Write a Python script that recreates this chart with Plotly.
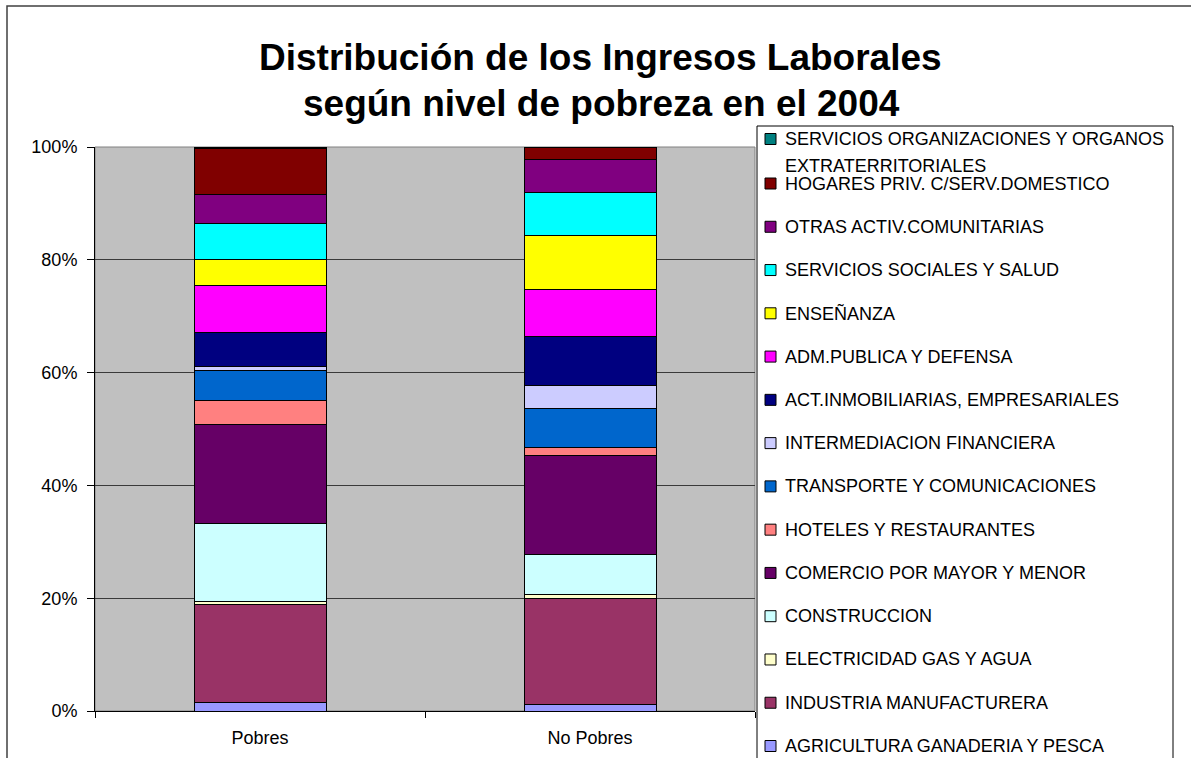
import plotly.graph_objects as go

categories = ["Pobres", "No Pobres"]

# sectors from the bottom of the stack to the top
sectors = [
    "AGRICULTURA GANADERIA Y PESCA",
    "INDUSTRIA MANUFACTURERA",
    "ELECTRICIDAD GAS Y AGUA",
    "CONSTRUCCION",
    "COMERCIO POR MAYOR Y MENOR",
    "HOTELES Y RESTAURANTES",
    "TRANSPORTE Y COMUNICACIONES",
    "INTERMEDIACION FINANCIERA",
    "ACT.INMOBILIARIAS, EMPRESARIALES",
    "ADM.PUBLICA Y DEFENSA",
    "ENSEÑANZA",
    "SERVICIOS SOCIALES Y SALUD",
    "OTRAS ACTIV.COMUNITARIAS",
    "HOGARES PRIV. C/SERV.DOMESTICO",
    "SERVICIOS ORGANIZACIONES Y ORGANOS<br>EXTRATERRITORIALES",
]

pobres = [1.5, 17.4, 0.5, 13.8, 17.6, 4.2, 5.4, 0.6, 6.1, 8.4, 4.6, 6.4, 5.1, 8.1, 0.3]
no_pobres = [1.2, 18.8, 0.7, 7.0, 17.6, 1.4, 6.9, 4.1, 8.7, 8.3, 9.6, 7.7, 5.8, 2.1, 0.1]

y_tickvals = [0, 20, 40, 60, 80, 100]
y_ticktext = ["0%", "20%", "40%", "60%", "80%", "100%"]

colors = [
    "#9999FF", "#993366", "#FFFFCC", "#CCFFFF", "#660066",
    "#FF8080", "#0066CC", "#CCCCFF", "#000080", "#FF00FF",
    "#FFFF00", "#00FFFF", "#800080", "#800000", "#008080",
]

W, H = 1191, 758
L, R, T, B = 95, 755, 147, 711


def px(x):
    # screen pixel -> paper x
    return (x - L) / (R - L)


def py(y):
    # screen pixel -> paper y
    return (B - y) / (B - T)


fig = go.Figure()
for i, name in enumerate(sectors):
    fig.add_trace(
        go.Bar(
            name=name,
            x=categories,
            y=[pobres[i], no_pobres[i]],
            marker=dict(color=colors[i], line=dict(color="#000", width=1)),
            width=0.4,
            showlegend=False,
        )
    )

font = "Liberation Sans, Arial, sans-serif"

fig.update_layout(
    barmode="stack",
    width=W,
    height=H,
    margin=dict(l=L, r=W - R, t=T, b=H - B, autoexpand=False),
    paper_bgcolor="white",
    plot_bgcolor="#C0C0C0",
    font=dict(family=font, size=18, color="#000"),
)

fig.update_yaxes(
    range=[0, 100],
    tickmode="array",
    tickvals=y_tickvals,
    ticktext=y_ticktext,
    showgrid=True,
    gridcolor="#3a3a3a",
    gridwidth=1,
    showline=True,
    linecolor="#000",
    linewidth=1,
    ticks="outside",
    ticklen=7,
    tickcolor="#000",
    ticklabelstandoff=6,
    zeroline=False,
)
fig.update_xaxes(
    showline=True,
    linecolor="#000",
    linewidth=1,
    ticks="outside",
    ticklen=6,
    tickcolor="#000",
    tickson="boundaries",
    ticklabelstandoff=10,
    range=[-0.5, 1.5],
)

shapes = [
    # plot area border (top/right grey)
    dict(type="rect", xref="paper", yref="paper", x0=0, x1=1, y0=0, y1=1,
         line=dict(color="#808080", width=1), layer="below"),
    # chart frame
    dict(type="rect", xref="paper", yref="paper",
         x0=px(7), x1=px(1200), y0=py(770), y1=py(6),
         line=dict(color="#404040", width=1.5)),
    # legend box
    dict(type="rect", xref="paper", yref="paper",
         x0=px(757), x1=px(1173), y0=py(775), y1=py(126),
         line=dict(color="#000", width=1), fillcolor="white"),
]

annotations = [
    dict(text="<b>Distribución de los Ingresos Laborales</b>", x=px(600), y=py(57),
         xref="paper", yref="paper", showarrow=False, xanchor="center", yanchor="middle",
         font=dict(size=37, family=font)),
    dict(text="<b>según nivel de pobreza en el 2004</b>", x=px(601), y=py(103),
         xref="paper", yref="paper", showarrow=False, xanchor="center", yanchor="middle",
         font=dict(size=37, family=font)),
]

# legend entries, top to bottom
legend_rows = list(range(len(sectors)))[::-1]
for k, i in enumerate(legend_rows):
    if k == 0:
        yc = 139
    else:
        yc = 183.5 + 43.27 * (k - 1)
    shapes.append(
        dict(type="rect", xref="paper", yref="paper",
             x0=px(765), x1=px(776), y0=py(yc + 5.5), y1=py(yc - 5.5),
             fillcolor=colors[i], line=dict(color="#000", width=1))
    )
    lines = sectors[i].split("<br>")
    for j, line in enumerate(lines):
        annotations.append(
            dict(text=line, x=px(783), y=py(yc + 27 * j), xref="paper", yref="paper",
                 showarrow=False, xanchor="left", yanchor="middle",
                 font=dict(size=18, family=font))
        )

fig.update_layout(shapes=shapes, annotations=annotations)

# drop the default body margin so the figure sits at the page corner
fig.write_html(
    "out.html",
    config={"displayModeBar": False},
    post_script="document.body.style.margin = '0';",
)
